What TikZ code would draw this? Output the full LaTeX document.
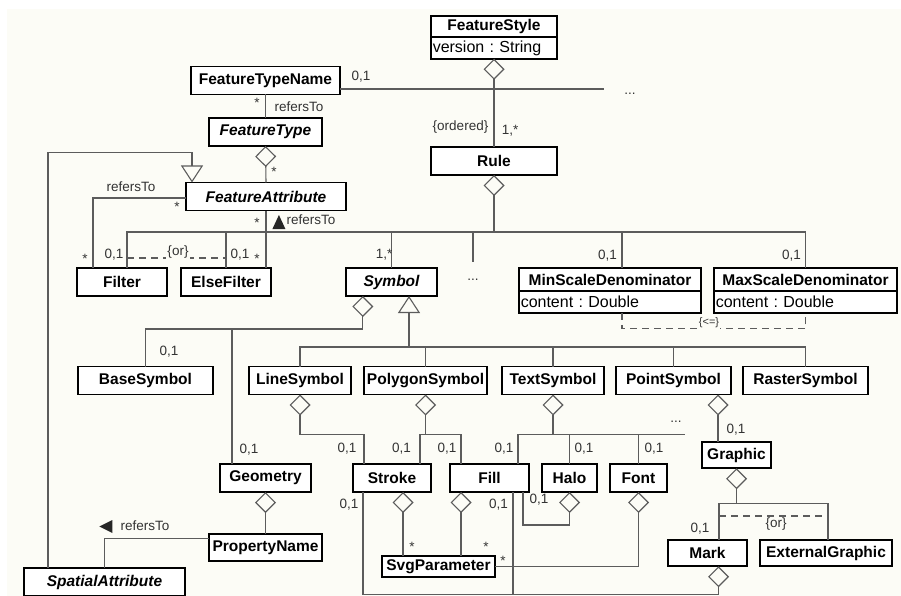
\documentclass[tikz,border=0pt]{standalone}
\usepackage{fontspec}
\setmainfont{Liberation Sans}
\usepackage{tikz}
\usetikzlibrary{positioning}
\usetikzlibrary{arrows.meta}

\definecolor{paper}{RGB}{252,252,246}
\definecolor{wirecol}{RGB}{92,92,92}
\newcommand{\clsfont}{\fontsize{15.5}{18}\selectfont\bfseries}
\newcommand{\attrfont}{\fontsize{16}{18}\selectfont}
\newcommand{\lblfont}{\fontsize{13.5}{15}\selectfont}

\begin{document}
\frenchspacing
\begin{tikzpicture}[x=1pt,y=-1pt,
	cls/.style={rectangle,draw=black,line width=1.7pt,fill=white,font=\clsfont,inner sep=2pt,outer sep=0pt,minimum height=28pt},
	acls/.style={cls,font=\clsfont\itshape},
	attr/.style={cls,font=\attrfont,align=left,minimum height=21.5pt},
	wire/.style={draw=wirecol,line width=1.1pt},
	agg/.style={wire,{Diamond[open,length=21pt,width=21pt]}-},
	gen/.style={wire,{Triangle[open,length=17pt,width=22pt]}-},
	lbl/.style={font=\lblfont,text=black!80,inner sep=0pt},
	ordash/.style={wire,dash pattern=on 7pt off 5pt}]
		\useasboundingbox (0,0) rectangle (901,596);
		\fill[white] (0,0) rectangle (901,596);
		\fill[paper] (7,9) rectangle (901,596);
		% classes
		\node[cls,minimum width=126.5pt,minimum height=21.5pt] (fstyle) at (494,26.5) {FeatureStyle};
		\node[attr,text width=122.5pt] (fstyleattr)[below = 0pt of fstyle]{version : String};
		\node[cls,minimum width=149.5pt] (ftname) at (265.5,80.5) {FeatureTypeName};
		\node[acls,minimum width=113.5pt] (ftype) at (265.5,132) {FeatureType};
		\node[cls,minimum width=126.5pt] (rule) at (494,161) {Rule};
		\node[acls,minimum width=160.5pt] (fattr) at (266,196.5) {FeatureAttribute};
		\node[cls,minimum width=90.5pt] (filter) at (122,282) {Filter};
		\node[cls,minimum width=90.5pt] (elsefilter)[right = 13.5pt of filter]{ElseFilter};
		\node[acls,minimum width=91.5pt] (symbol) at (391.5,282) {Symbol};
		\node[lbl,minimum height=36pt] (rdots) at (473,280) {...};
		\node[cls,minimum width=182.5pt,minimum height=23.5pt] (minscale) at (610,279.5) {MinScaleDenominator};
		\node[attr,text width=178.5pt] (minattr)[below = 0pt of minscale]{content : Double};
		\node[cls,minimum width=183.5pt,minimum height=23.5pt] (maxscale)[right = 12.5pt of minscale]{MaxScaleDenominator};
		\node[attr,text width=179.5pt] (maxattr)[below = 0pt of maxscale]{content : Double};
		\node[cls,minimum width=135.5pt] (base) at (145.5,380.5) {BaseSymbol};
		\node[cls,minimum width=102.5pt] (line)[right = 35.5pt of base]{LineSymbol};
		\node[cls,minimum width=123.5pt] (polygon)[right = 12.5pt of line]{PolygonSymbol};
		\node[cls,minimum width=102.5pt] (text)[right = 14.5pt of polygon]{TextSymbol};
		\node[cls,minimum width=115.5pt] (point)[right = 11.5pt of text]{PointSymbol};
		\node[cls,minimum width=125.5pt] (raster)[right = 11.5pt of point]{RasterSymbol};
		\node[cls,minimum width=91.5pt] (geometry) at (265.5,478) {Geometry};
		\node[cls,minimum width=78.5pt] (stroke) at (392,478) {Stroke};
		\node[cls,minimum width=79.5pt] (fill)[right = 18.5pt of stroke]{Fill};
		\node[cls,minimum width=55.5pt] (halo)[right = 12.5pt of fill]{Halo};
		\node[cls,minimum width=57.5pt] (font)[right = 12.5pt of halo]{Font};
		\node[cls,minimum width=69.5pt,minimum height=26.5pt] (graphic) at (736.5,455) {Graphic};
		\node[cls,minimum width=79.5pt,minimum height=26.5pt] (mark) at (707.5,553) {Mark};
		\node[cls,minimum width=132.5pt,minimum height=26.5pt] (extgraphic)[right = 12.5pt of mark]{ExternalGraphic};
		\node[cls,minimum width=113.5pt,minimum height=27.5pt] (propname) at (265.5,547.5) {PropertyName};
		\node[cls,minimum width=113.5pt,minimum height=21.5pt] (svgparam) at (438.5,566.5) {SvgParameter};
		\node[acls,minimum width=161.5pt,minimum height=28.5pt] (spatial) at (104.5,582) {SpatialAttribute};
		% associations
		\draw[agg] (fstyleattr.south) -- (rule.north);
		\draw[wire] ([yshift=-8.5pt]ftname.east) -- ++(264,0);
		\draw[wire] (ftname.south) -- (ftype.north);
		\draw[agg] (ftype.south) -- (fattr.north);
		\draw[gen] ([xshift=-74pt]fattr.north) -- ++(0,-30) -| ([xshift=-56.5pt]spatial.north);
		\draw[wire] ([yshift=-1.5pt]fattr.west) -| ([xshift=-29pt]filter.north);
		\draw[wire] (fattr.south) -- ([xshift=40pt]elsefilter.north);
		\draw[agg] (rule.south) -- ++(0,57) coordinate (rbus);
		\draw[wire] ([xshift=5pt]filter.north) |- (rbus);
		\draw[wire] (elsefilter.north) |- (rbus);
		\draw[wire] (symbol.north) |- (rbus);
		\draw[wire] (rdots.north) |- (rbus);
		\draw[wire] ([xshift=12pt]minscale.north) |- (rbus);
		\draw[wire] (maxscale.north) |- (rbus);
		\draw[ordash] ([xshift=5pt,yshift=10pt]filter.north) -- ([yshift=10pt]elsefilter.north);
		\draw[ordash] ([xshift=12pt]minattr.south) -- ++(0,16) -| (maxattr.south);
		\draw[agg] ([xshift=17pt]symbol.south west) -- ++(0,33) coordinate (sbus) -| (base.north);
		\draw[wire] ([xshift=-33.5pt]geometry.north) |- (sbus);
		\draw[gen] ([xshift=17.5pt]symbol.south) -- ++(0,51) coordinate (gbus);
		\draw[wire] (line.north) |- (gbus);
		\draw[wire] (polygon.north) |- (gbus);
		\draw[wire] (text.north) |- (gbus);
		\draw[wire] (point.north) |- (gbus);
		\draw[wire] (raster.north) |- (gbus);
		\draw[agg] (line.south) -- ++(0,40) -| ([xshift=-28pt]stroke.north);
		\draw[agg] (polygon.south) -- ++(0,40) coordinate (pbus);
		\draw[wire] ([xshift=28pt]stroke.north) |- (pbus) -| ([xshift=-28.5pt]fill.north);
		\draw[agg] (text.south) -- ++(0,40) coordinate (tbus);
		\draw[wire] ([xshift=28.5pt]fill.north) |- (tbus) -- ++(132,0);
		\draw[wire] (halo.north) |- (tbus);
		\draw[wire] (font.north) |- (tbus);
		\draw[agg] (halo.south) -- ++(0,33) -| ([xshift=33.5pt]fill.south);
		\draw[agg] ([xshift=44.5pt]point.south) -- ([xshift=-18.5pt]graphic.north);
		\draw[agg] (graphic.south) -- ++(0,35) coordinate (xbus);
		\draw[wire] ([xshift=11.5pt]mark.north) |- (xbus) -| ([xshift=2pt]extgraphic.north);
		\draw[ordash] ([xshift=11.5pt,yshift=23.75pt]mark.north) -- ([xshift=2pt,yshift=23.75pt]extgraphic.north);
		\draw[agg] ([xshift=11pt]mark.south) -- ++(0,28) coordinate (mbus);
		\draw[wire] ([xshift=-29pt]stroke.south) |- (mbus);
		\draw[wire] ([xshift=23.5pt]fill.south) -- ([xshift=23.5pt]fill.south |- mbus);
		\draw[agg] ([xshift=11pt]stroke.south) -- ([xshift=-35.5pt]svgparam.north);
		\draw[agg] ([xshift=-28.5pt]fill.south) -- ([xshift=22.5pt]svgparam.north);
		\draw[agg] (font.south) |- (svgparam.east);
		\draw[agg] (geometry.south) -- (propname.north);
		\draw[wire] ([yshift=9pt]propname.west) -| (spatial.north);
		% labels
		\node[lbl] (m1) at (361,77) {0,1};
		\node[lbl] (tdots1) at (630,94) {...};
		\node[lbl] (m2) at (257,103) {*};
		\node[lbl] (refA) at (299,107) {refersTo};
		\node[lbl] (m3) at (274,172) {*};
		\node[lbl] (ordered) at (460.5,127) {\{ordered\}};
		\node[lbl] (m4) at (510,131) {1,*};
		\node[lbl] (refF) at (131,187) {refersTo};
		\node[lbl] (m5) at (177,207) {*};
		\node[lbl] (m6) at (85,259) {*};
		\node[lbl] (m7) at (257,223) {*};
		\node[lbl] (refB) at (311,220) {refersTo};
		\fill[black!85] (refB.west) ++(-14,9) -- ++(13,0) -- ++(-6.5,-14) -- cycle;
		\node[lbl] (m8) at (114,255) {0,1};
		\node[lbl,fill=paper,inner sep=1pt] (or1) at (178,252) {\{or\}};
		\node[lbl] (m9) at (240,255) {0,1};
		\node[lbl] (m10) at (257,259) {*};
		\node[lbl] (m11) at (384,255) {1,*};
		\node[lbl] (m12) at (607.5,256) {0,1};
		\node[lbl] (m13) at (791.5,256) {0,1};
		\node[lbl,font=\fontsize{11}{12}\selectfont,fill=paper,inner sep=1pt] (le) at (709,323) {\{<=\}};
		\node[lbl] (m14) at (169,352) {0,1};
		\node[lbl] (m15) at (249,450) {0,1};
		\node[lbl] (m16) at (347,449) {0,1};
		\node[lbl] (m17) at (401.5,449) {0,1};
		\node[lbl] (m18) at (447,449) {0,1};
		\node[lbl] (m19) at (504,449) {0,1};
		\node[lbl] (m20) at (584,449) {0,1};
		\node[lbl] (m21) at (654,449) {0,1};
		\node[lbl] (tdots2) at (676,422) {...};
		\node[lbl] (m22) at (736,430) {0,1};
		\node[lbl] (m23) at (349,505) {0,1};
		\node[lbl] (m24) at (498.5,505) {0,1};
		\node[lbl] (m25) at (539,500) {0,1};
		\node[lbl] (m26) at (412,547) {*};
		\node[lbl] (m27) at (486,547) {*};
		\node[lbl] (m28) at (503,561) {*};
		\node[lbl] (m29) at (700,529) {0,1};
		\node[lbl] (or2) at (776,524) {\{or\}};
		\node[lbl] (refC) at (145,526) {refersTo};
		\fill[black!85] (refC.west) ++(-8,-6) -- ++(0,13) -- ++(-13,-6.5) -- cycle;
	\end{tikzpicture}
\end{document}
